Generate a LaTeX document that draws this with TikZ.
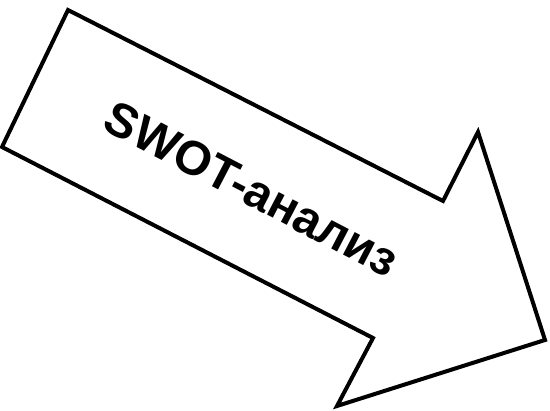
\documentclass[tikz,border=0pt]{standalone}
\usepackage{fontspec}
\setmainfont{Liberation Sans}
\begin{document}
\begin{tikzpicture}[x=1pt,y=-1pt,
  arrowshape/.style={draw=black,line width=4pt,line join=miter,fill=white},
  label/.style={font=\bfseries\fontsize{48}{48}\selectfont,rotate=-27.5,inner sep=0pt}]
\useasboundingbox (0,0) rectangle (550,411);
\coordinate (tl) at (68,10);
\coordinate (lf) at (2,147);
\coordinate (n2) at (373,338);
\coordinate (bb) at (337,406);
\coordinate (tip) at (545,340);
\coordinate (ub) at (478,132);
\coordinate (n1) at (443,201);
\draw[arrowshape] (tl) -- (lf) -- (n2) -- (bb) -- (tip) -- (ub) -- (n1) -- cycle;
\node[label] (t) at (252,189) {SWOT-анализ};
\end{tikzpicture}
\end{document}
